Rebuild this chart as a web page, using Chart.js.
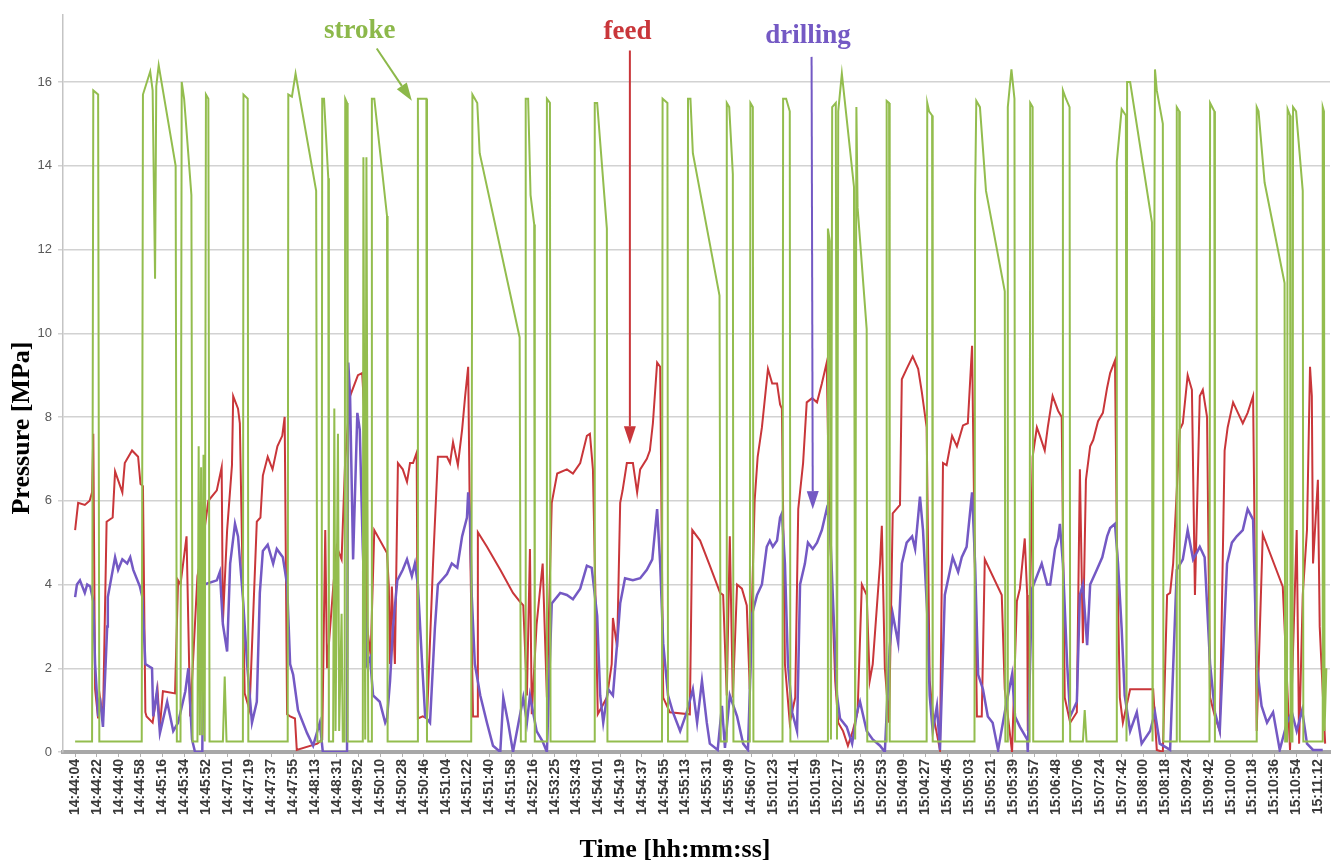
<!DOCTYPE html>
<html>
<head>
<meta charset="utf-8">
<title>Pressure vs time</title>
<script src="https://cdn.jsdelivr.net/npm/chart.js@4.4.1/dist/chart.umd.min.js"></script>
<style>
  html, body { margin: 0; padding: 0; background: #fff; }
  canvas { display: block; }
</style>
</head>
<body>
<canvas id="pressure-chart" width="1341" height="867"></canvas>
<script>
// x = sample number (one tick label every 18 samples), y = pressure in MPa

// Tick labels along the time axis
var timeLabels = ['14:44:04', '14:44:22', '14:44:40', '14:44:58', '14:45:16', '14:45:34', '14:45:52',
    '14:47:01', '14:47:19', '14:47:37', '14:47:55', '14:48:13', '14:48:31', '14:49:52', '14:50:10',
    '14:50:28', '14:50:46', '14:51:04', '14:51:22', '14:51:40', '14:51:58', '14:52:16', '14:53:25',
    '14:53:43', '14:54:01', '14:54:19', '14:54:37', '14:54:55', '14:55:13', '14:55:31', '14:55:49',
    '14:56:07', '15:01:23', '15:01:41', '15:01:59', '15:02:17', '15:02:35', '15:02:53', '15:04:09',
    '15:04:27', '15:04:45', '15:05:03', '15:05:21', '15:05:39', '15:05:57', '15:06:48', '15:07:06',
    '15:07:24', '15:07:42', '15:08:00', '15:08:18', '15:09:24', '15:09:42', '15:10:00', '15:10:18',
    '15:10:36', '15:10:54', '15:11:12'];
var samplesPerLabel = 18;

// stroke pressure [sample, MPa]
var stroke = [[0,0.25],[14,0.25],[15,15.8],[19,15.7],[20,0.25],[55,0.25],[56,15.7],[62,16.25],[64,15.8],[66,11.3],
    [67,15.9],[69,16.4],[83,14.0],[84,0.25],[87,0.25],[88,16.0],[90,15.6],[96,13.3],[97,0.25],[101,0.25],
    [102,7.3],[103,0.4],[104,6.8],[105,0.4],[106,7.1],[107,0.25],[108,15.7],[110,15.6],[111,0.25],[122,0.25],
    [123.5,1.8],[125,0.25],[138.5,0.25],[139,15.7],[142.5,15.6],[143,0.25],[175.5,0.25],[176,15.7],[179,15.65],
    [182,16.2],[199,13.4],[200,0.25],[203.5,0.25],[204,15.6],[205.5,15.6],[209,13.7],[209.5,0.25],[213,0.25],
    [214,8.2],[215,0.5],[217,7.6],[218,0.5],[220,3.3],[221,0.25],[222.5,0.25],[223,15.6],[224.5,15.5],[225,0.25],
    [237.5,0.25],[238,14.2],[239.5,0.3],[240.5,14.2],[242,0.25],[244.5,0.25],[245,15.6],[247,15.6],[257.5,12.8],
    [258,0.25],[282.5,0.25],[283,15.6],[290,15.6],[290.5,0.25],[327,0.25],[328,15.7],[330,15.6],[332,15.5],
    [334,14.3],[367,9.9],[368,0.25],[371.5,0.25],[372,15.6],[374,15.6],[376,13.3],[379,12.6],[379.5,0.25],
    [389,0.25],[389.5,15.6],[392,15.5],[392.5,0.25],[428.5,0.25],[429,15.5],[431,15.5],[439,12.5],[439.5,0.25],
    [484.5,0.25],[485,15.6],[489,15.5],[489.5,0.25],[505.5,0.25],[506,15.6],[508,15.6],[510,14.3],[532,10.9],
    [533,0.25],[537.5,0.25],[538,15.5],[540,15.4],[543,13.8],[543.5,0.25],[557,0.25],[557.5,15.5],[559.5,15.4],
    [560,0.25],[584,0.25],[584.5,15.6],[587,15.6],[590,15.3],[590.5,0.25],[621,0.25],[621.5,12.5],[623,12.2],
    [624,0.3],[625,15.4],[628,15.5],[629,0.3],[630,15.3],[633,16.2],[643,13.5],[644,0.3],[645,15.4],[646,13.0],
    [653.5,10.1],[654,0.25],[669.5,0.25],[670,15.55],[672,15.5],[672.5,0.25],[703,0.25],[703.5,15.5],[705,15.3],
    [707.5,15.2],[708,0.25],[742.5,0.25],[743,13.3],[744,15.55],[747,15.4],[752,13.4],[767.5,11.0],[768,0.25],
    [769.5,0.25],[770,15.4],[773,16.3],[775.5,15.6],[776,0.25],[788,0.25],[788.5,15.5],[790.5,15.4],[791,0.25],
    [815,0.25],[815.5,15.8],[818,15.6],[821,15.4],[821.5,0.25],[832,0.25],[833.5,1.0],[835,0.25],[859.5,0.25],
    [860,14.1],[864,15.35],[867.5,15.2],[868,0.25],[868.5,16.0],[871,16.0],[889,12.65],[889.5,0.25],[891.5,16.3],
    [893,15.8],[898,15.0],[898.5,0.25],[909,0.25],[909.5,15.4],[911.5,15.3],[912,0.25],[936.5,0.25],[937,15.5],
    [940.5,15.3],[941,0.25],[975,0.25],[975.5,15.4],[977,15.3],[982,13.6],[998.5,11.2],[999,0.25],[1000.5,0.25],
    [1001,15.35],[1003,15.2],[1003.5,0.25],[1005,0.25],[1005.5,15.4],[1008,15.3],[1013.5,13.4],[1014,0.25],
    [1029.5,0.25],[1030,15.4],[1031,15.3],[1031.5,0.5],[1033,2.0]];

// feed pressure [sample, MPa]
var feed = [[0,5.3],[2.5,5.95],[8,5.9],[12,6.0],[14,6.2],[15,7.6],[16.5,1.5],[19,0.8],[20.5,1.3],[23,0.75],
    [26,5.5],[31,5.6],[33,6.7],[39,6.2],[41,6.9],[47,7.2],[52,7.05],[54,6.4],[56,6.35],[58,0.95],[59,0.85],
    [64,0.7],[68,1.5],[70,0.6],[72.5,1.45],[82.5,1.4],[85,4.1],[87,4.0],[92,5.15],[95,0.85],[101,4.2],[103,4.5],
    [110,6.0],[117,6.25],[121,6.8],[122,3.1],[125.5,5.3],[129.5,6.85],[130.5,8.5],[134.5,8.2],[136,7.85],
    [140,1.4],[144,1.0],[150,5.5],[153,5.6],[155,6.6],[159,7.05],[163,6.75],[167,7.3],[171,7.55],[173,8.0],
    [175,0.9],[177.5,0.85],[181.5,0.8],[183,0.05],[200,0.2],[204,0.3],[206.5,5.3],[208,2.0],[213,3.9],[216,4.9],
    [220,4.6],[223,7.0],[227,8.5],[233.5,9.0],[237,9.05],[239.5,7.7],[241,3.0],[244,2.3],[247,5.3],[257.5,4.75],
    [259,3.95],[260,2.1],[261.5,3.95],[264,2.1],[266.5,6.9],[270.5,6.75],[274,6.45],[276.5,6.9],[279,6.9],
    [282,7.15],[283,0.8],[287,0.85],[290.5,0.8],[295.5,4.5],[299.5,7.05],[307,7.05],[309.5,6.9],[312,7.4],
    [316,6.85],[319.5,7.7],[322,8.5],[324.5,9.2],[326,5.2],[328.5,0.85],[332,0.85],[332.5,5.25],[340,4.9],
    [351,4.35],[361.5,3.8],[367,3.6],[370,3.5],[373,1.35],[375.5,4.85],[377,0.9],[381,3.05],[386,4.5],[389.5,1.3],
    [393.5,5.95],[398,6.65],[406,6.75],[411,6.65],[417,6.9],[422.5,7.55],[425,7.6],[427.5,6.75],[431.5,0.9],
    [439,1.3],[443,2.1],[444,3.2],[447.5,2.5],[450,5.95],[452,6.25],[455.5,6.9],[460.5,6.9],[464,6.2],
    [466.5,6.75],[472,7.0],[474.5,7.2],[477,7.85],[480.5,9.3],[483,9.2],[485.5,1.3],[491,0.95],[507.5,0.9],
    [509.5,5.3],[516,5.05],[524,4.45],[532.5,3.8],[535,3.75],[538,1.35],[540.5,5.15],[543,1.3],[546.5,4.0],
    [550.5,3.9],[554.5,3.5],[557,1.5],[561,6.0],[563.5,7.05],[567,7.75],[572,9.15],[575.5,8.8],[579.5,8.8],
    [582,8.3],[583.5,8.2],[586,2.1],[590,0.7],[594.5,1.3],[597,5.8],[601,6.9],[604,8.35],[608.5,8.45],
    [612.5,8.35],[616.5,8.8],[620.5,9.3],[622.5,5.95],[625,3.75],[627.5,1.7],[630,0.7],[634,0.5],[638,0.15],
    [642,0.5],[646,0.95],[649.5,4.0],[653.5,3.75],[656,1.7],[658.5,2.1],[664.5,4.5],[666,5.4],[668.5,2.0],
    [672,0.7],[675,5.7],[681,5.9],[682.5,8.9],[686.5,9.15],[691.5,9.45],[696,9.15],[699,8.6],[703,7.75],
    [705.5,1.7],[708,0.95],[714,0.05],[716.5,6.9],[719.5,6.85],[724,7.55],[728,7.3],[733,7.8],[737,7.85],
    [740.5,9.7],[743,4.0],[744.5,0.85],[748.5,0.85],[751,4.6],[765,3.75],[767.5,1.5],[773.5,0.0],[777.5,3.6],
    [780,3.9],[784,5.1],[786,3.75],[786.5,0.5],[790.5,7.05],[794,7.75],[796.5,7.55],[800.5,7.2],[803,7.75],
    [807,8.5],[811.5,8.15],[814.5,8.0],[817,1.3],[821.5,0.7],[827,0.95],[829.5,6.75],[832,2.6],[834.5,6.5],
    [838,7.3],[840.5,7.45],[844.5,7.9],[848.5,8.1],[852,8.7],[854.5,9.05],[858.5,9.35],[860,5.2],[862.5,1.3],
    [865,0.7],[871,1.5],[890,1.5],[893,0.05],[898,0.0],[901.5,3.75],[904,3.8],[906.5,4.5],[912,7.7],[914.5,7.85],
    [918.5,9.0],[922,8.65],[924.5,3.75],[928.5,8.5],[931,8.65],[934.5,8.0],[937,1.3],[941,0.85],[945,0.5],
    [949,7.2],[951.5,7.75],[956,8.35],[960,8.1],[964,7.85],[968,8.1],[972.5,8.5],[975.5,0.5],[980.5,5.2],
    [997,3.95],[1000.5,1.7],[1003,0.05],[1008.5,5.3],[1010.5,0.2],[1013.5,3.75],[1017,5.3],[1019.5,9.2],
    [1021,8.5],[1022,4.5],[1026,6.5],[1027.5,3.0],[1032,0.2]];

// drilling pressure [sample, MPa]
var drilling = [[0,3.7],[1.5,4.0],[4,4.1],[8,3.8],[10,4.0],[12.5,3.95],[15,3.6],[16.5,2.1],[19,0.85],[20.5,1.3],
    [23,0.6],[26.5,3.0],[27,3.7],[33,4.65],[35.5,4.35],[39,4.6],[43,4.5],[45.5,4.65],[48,4.35],[53.5,3.95],
    [55.5,3.7],[58,2.1],[63.5,2.0],[64.5,0.85],[67.5,1.45],[70,0.45],[76,1.2],[81,0.5],[85,0.7],[91,1.45],
    [93.5,2.0],[96.5,0.3],[99,0.0],[105,0.0],[106.5,4.0],[117,4.1],[119.5,4.3],[122,3.05],[125.5,2.4],[128,4.5],
    [132,5.45],[134.5,5.15],[138.5,3.7],[142,2.1],[146,0.7],[150,1.2],[152.5,3.8],[155,4.8],[159,4.95],
    [163.5,4.5],[166.5,4.85],[171.5,4.65],[175,4.0],[177.5,2.1],[180,1.85],[184,1.0],[191.5,0.45],[196.5,0.15],
    [202,0.7],[204.5,0.0],[224.5,0.0],[225.5,9.3],[227,8.5],[229.5,4.6],[233,8.1],[235,7.7],[237.5,4.85],
    [241,2.1],[243.5,2.25],[246,1.35],[251.5,1.2],[256,0.7],[257.5,0.8],[260,1.7],[262.5,3.0],[266,4.1],
    [270.5,4.35],[274,4.6],[278,4.2],[280.5,4.5],[283,4.0],[286.5,2.1],[289,0.85],[293,0.7],[297,2.95],
    [299.5,4.0],[307,4.25],[311,4.5],[315.5,4.4],[319.5,5.15],[323.5,5.6],[324.5,6.2],[326,5.6],[327.5,3.7],
    [330,2.1],[334.5,1.35],[340,0.7],[345,0.15],[351,0.0],[353.5,1.3],[357.5,0.7],[361.5,0.0],[370,1.3],[373,0.7],
    [375.5,1.35],[381,0.5],[386,0.25],[389.5,0.0],[393.5,3.55],[400.5,3.8],[406,3.75],[411,3.65],[417,3.9],
    [422.5,4.45],[426.5,4.4],[431,3.25],[433.5,1.35],[436,0.7],[440,1.5],[444,1.35],[447.5,2.6],[450,3.55],
    [454,4.15],[460.5,4.1],[466.5,4.15],[472,4.35],[476.5,4.6],[480.5,5.8],[483,4.5],[485.5,2.6],[489.5,1.35],
    [493.5,0.95],[499.5,0.5],[505,0.95],[510,1.5],[513.5,0.7],[517.5,1.7],[521.5,0.7],[524,0.2],[530.5,0.05],
    [534,1.1],[536.5,0.1],[540.5,1.35],[546.5,0.85],[551.5,0.2],[555.5,0.05],[559,3.3],[563,3.75],[567,4.0],
    [571,4.9],[573.5,5.05],[576,4.9],[579.5,5.05],[582,5.6],[583.5,5.7],[586,4.5],[588.5,2.1],[592,0.95],
    [596,0.5],[598.5,4.0],[602.5,4.5],[605,5.0],[609,4.85],[612.5,5.0],[616.5,5.3],[620.5,5.8],[623,5.55],
    [625.5,3.75],[629,1.35],[631.5,0.8],[637,0.6],[641.5,0.2],[645.5,0.95],[648,1.2],[653.5,0.5],[658.5,0.3],
    [664.5,0.15],[668.5,0.0],[672.5,2.5],[675,3.3],[679.5,2.6],[682.5,4.5],[686.5,5.0],[691,5.15],[693.5,4.85],
    [697.5,6.1],[700,5.3],[703.5,3.3],[705.5,1.35],[708,0.5],[711.5,1.1],[714,0.05],[718,3.75],[722,4.3],
    [724.5,4.65],[729,4.3],[732,4.65],[736,4.9],[740.5,6.2],[743,4.5],[745.5,1.85],[749.5,1.5],[753.5,0.85],
    [757.5,0.7],[762,0.05],[767.5,0.95],[773.5,1.85],[776,0.85],[780,0.6],[786,0.3],[786.5,0.0],[790,3.9],
    [794,4.2],[798,4.5],[802.5,4.0],[805,4.0],[809,4.85],[811.5,5.1],[813,5.45],[815.5,4.5],[819,2.1],
    [821.5,0.85],[827,1.2],[829.5,3.75],[832,4.0],[835.5,2.55],[838,4.0],[843.5,4.35],[848,4.65],[852,5.15],
    [854.5,5.35],[858.5,5.45],[861,4.5],[864,2.95],[866.5,1.35],[871,0.5],[876.5,0.95],[880.5,0.2],[887.5,0.5],
    [891.5,0.95],[895.5,0.2],[904,0.05],[909.5,4.35],[914.5,4.6],[918.5,5.3],[923,4.6],[928.5,4.9],[932.5,4.65],
    [937,2.1],[941,0.95],[945,0.5],[951,4.5],[955,5.0],[959,5.15],[964,5.3],[968,5.8],[972.5,5.55],[975.5,2.1],
    [979.5,1.1],[984,0.7],[989,0.95],[994.5,0.05],[1000.5,0.7],[1004.5,0.95],[1008.5,0.5],[1013,1.0],
    [1017,0.2],[1022,0.05],[1030,0.05]];

var yTicks = [0, 2, 4, 6, 8, 10, 12, 14, 16];

// Labels with arrows drawn over the plot, in data units
var notes = [
    { text: 'stroke',   color: '#8cb84a', at: [235, 17.22], from: [249, 16.8], to: [278, 15.55] },
    { text: 'feed',     color: '#c9363a', at: [456, 17.2],  from: [458, 16.75], to: [458, 7.35] },
    { text: 'drilling', color: '#7459c4', at: [605, 17.1],  from: [608, 16.6], to: [609, 5.8] }
];

function drawArrow(ctx, x1, y1, x2, y2, color) {
    var ang = Math.atan2(y2 - y1, x2 - x1);
    var head = 18, half = 6;
    ctx.strokeStyle = color;
    ctx.fillStyle = color;
    ctx.lineWidth = 2;
    ctx.beginPath();
    ctx.moveTo(x1, y1);
    ctx.lineTo(x2 - head * Math.cos(ang), y2 - head * Math.sin(ang));
    ctx.stroke();
    ctx.beginPath();
    ctx.moveTo(x2, y2);
    ctx.lineTo(x2 - head * Math.cos(ang) + half * Math.sin(ang), y2 - head * Math.sin(ang) - half * Math.cos(ang));
    ctx.lineTo(x2 - head * Math.cos(ang) - half * Math.sin(ang), y2 - head * Math.sin(ang) + half * Math.cos(ang));
    ctx.closePath();
    ctx.fill();
}

var notesPlugin = {
    id: 'notes',
    afterDraw: function (chart) {
        var ctx = chart.ctx, xs = chart.scales.x, ys = chart.scales.y;
        ctx.save();
        notes.forEach(function (n) {
            ctx.font = 'bold 27px "Liberation Serif", serif';
            ctx.fillStyle = n.color;
            ctx.textAlign = 'center';
            ctx.textBaseline = 'middle';
            ctx.fillText(n.text, xs.getPixelForValue(n.at[0]), ys.getPixelForValue(n.at[1]));
            drawArrow(ctx, xs.getPixelForValue(n.from[0]), ys.getPixelForValue(n.from[1]),
                xs.getPixelForValue(n.to[0]), ys.getPixelForValue(n.to[1]), n.color);
        });

        // axis titles
        ctx.fillStyle = '#000';
        ctx.font = 'bold 26px "Liberation Serif", serif';
        ctx.textAlign = 'center';
        ctx.textBaseline = 'middle';
        ctx.fillText('Time [hh:mm:ss]', 675, 850);
        ctx.translate(22, 428);
        ctx.rotate(-Math.PI / 2);
        ctx.fillText('Pressure [MPa]', 0, 0);
        ctx.restore();
    }
};

var ctx = document.getElementById('pressure-chart');

var chartData = {
    datasets: [{
        label: 'stroke',
        data: stroke,
        borderColor: '#93bd4e',
        borderWidth: 2
    }, {
        label: 'drilling',
        data: drilling,
        borderColor: '#7459c4',
        borderWidth: 2.5
    }, {
        label: 'feed',
        data: feed,
        borderColor: '#c9363a',
        borderWidth: 2
    }]
};

var chartOptions = {
    responsive: false,
    animation: false,
    layout: { padding: { top: 15, right: 11, left: 0, bottom: 0 } },
    elements: {
        point: { radius: 0 },
        line: { tension: 0, fill: false }
    },
    plugins: {
        legend: { display: false },
        tooltip: { enabled: false }
    },
    scales: {
        x: {
            type: 'linear',
            min: -10,
            max: 1036,
            afterFit: function (scale) { scale.height = 115; },
            afterBuildTicks: function (scale) {
                scale.ticks = timeLabels.map(function (t, i) { return { value: i * samplesPerLabel }; });
            },
            grid: { drawOnChartArea: false, drawTicks: true, tickLength: 5, color: '#b0b0b0' },
            border: { color: '#a8a8a8', width: 4, dash: [2, 1] },
            ticks: {
                autoSkip: false,
                minRotation: 90,
                maxRotation: 90,
                padding: 2,
                color: '#3a3a3a',
                font: { family: '"Liberation Sans", sans-serif', size: 14, weight: 'bold' },
                callback: function (v) { return timeLabels[Math.round(v / samplesPerLabel)]; }
            }
        },
        y: {
            min: 0,
            max: 17.6,
            afterFit: function (scale) { scale.width = 63; },
            afterBuildTicks: function (scale) {
                scale.ticks = yTicks.map(function (v) { return { value: v }; });
            },
            grid: { color: '#d2d2d2', lineWidth: 1.5, tickLength: 5 },
            border: { color: '#c4c4c4', width: 1.5 },
            ticks: {
                padding: 6,
                color: '#595959',
                font: { family: '"Liberation Sans", sans-serif', size: 13 }
            }
        }
    }
};

var config = {
    type: 'line',
    data: chartData,
    options: chartOptions,
    plugins: [notesPlugin]
};

// Create the chart
var pressureChart = new Chart(ctx, config);
</script>
</body>
</html>
